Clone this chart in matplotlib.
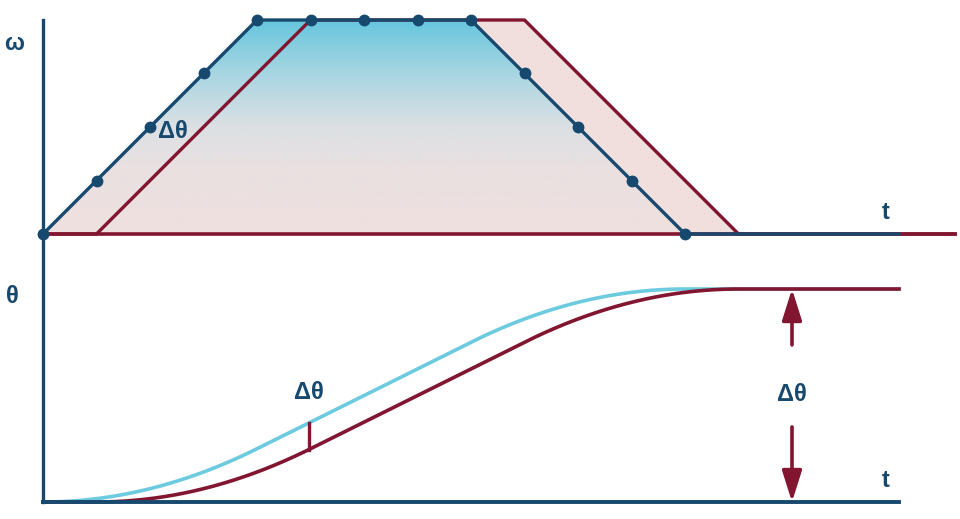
import numpy as np
import matplotlib.pyplot as plt
from matplotlib.colors import LinearSegmentedColormap
from matplotlib.patches import Polygon

plt.rcParams['font.family'] = ['Liberation Sans', 'DejaVu Sans']

# velocity profile breakpoints (time units, normalised speed)
t_blue = [0, 1, 2, 3, 4, 5, 6, 7, 8, 9, 10, 11, 12]
w_blue = [0, 0.25, 0.5, 0.75, 1, 1, 1, 1, 1, 0.75, 0.5, 0.25, 0]
t_red = [0, 1, 5, 9, 13, 17.05]
w_red = [0, 0, 1, 1, 0, 0]
t_end = 16          # end of the blue baseline / theta axis
t_arrow = 14        # where the total delta-theta arrow sits
t_mark = 4.97       # where the small delta-theta marker sits

NAVY = '#17496f'
RED = '#82152f'
CYAN = '#6ccbde'
PINK = '#f0dfdd'

fig = plt.figure(figsize=(9.6, 5.19), dpi=100)
ax1 = fig.add_axes([0, 259 / 519, 1, 260 / 519])
ax2 = fig.add_axes([0, 0, 1, 259 / 519])
xlim = (-43 / 53.5, (960 - 43) / 53.5)
for ax in (ax1, ax2):
    ax.set_xlim(*xlim)
    ax.axis('off')
ax1.set_ylim(-26 / 214, 234 / 214)
ax2.set_ylim(-17 / 26.625, 242 / 26.625)

# ---- top panel: speed ----
ax1.fill_between(t_red, w_red, color=PINK, lw=0, zorder=1)
cmap = LinearSegmentedColormap.from_list(
    'grad', [(0, '#efe0df'), (0.3, '#eae0e1'), (0.5, '#dce0e4'),
             (0.75, '#a8d6e2'), (1, '#66c6dd')])
grad = np.linspace(0, 1, 256).reshape(-1, 1)
img = ax1.imshow(grad, cmap=cmap, origin='lower', aspect='auto',
                 extent=[0, 12, 0, 1], zorder=2)
poly = Polygon(np.column_stack([t_blue, w_blue]), closed=True,
               transform=ax1.transData, fc='none', ec='none')
ax1.add_patch(poly)
img.set_clip_path(poly)

ax1.plot([t_red[0], t_red[-1]], [0, 0], color=RED, lw=2.6, zorder=3)
ax1.plot(t_red, w_red, color=RED, lw=2.4, zorder=3)
ax1.plot(t_blue + [t_end], w_blue + [0], color=NAVY, lw=2.4, zorder=4)
ax1.plot(t_blue, w_blue, 'o', color=NAVY, ms=7.5, zorder=5)

txt = dict(color=NAVY, fontsize=17, fontweight='bold', ha='center', va='center')
ax1.text(-0.54, 0.89, 'ω', **txt)
ax1.text(15.76, 0.10, 't', **txt)
ax1.text(2.43, 0.48, 'Δθ', **txt)

# ---- bottom panel: position = integral of speed ----
t = np.linspace(0, t_end, 1601)
wb = np.interp(t, t_blue, w_blue)
wr = np.interp(t, t_red, w_red)
dt = t[1] - t[0]
theta_b = np.concatenate([[0], np.cumsum((wb[1:] + wb[:-1]) / 2 * dt)])
theta_r = np.concatenate([[0], np.cumsum((wr[1:] + wr[:-1]) / 2 * dt)])

# one vertical axis line for both panels (runs up to the top of the speed plot)
ax2.plot([0, 0], [0, 482 / 26.625], color=NAVY, lw=2.4, clip_on=False, zorder=4)
ax2.plot([0, t_end], [0, 0], color=NAVY, lw=2.8, zorder=4)
ax2.plot(t, theta_b, color=CYAN, lw=2.6, zorder=2)
ax2.plot(t, theta_r, color=RED, lw=2.6, zorder=3)

yb = np.interp(t_mark, t, theta_b)
yr = np.interp(t_mark, t, theta_r)
ax2.plot([t_mark, t_mark], [yr, yb], color=RED, lw=2.4, zorder=3)
ax2.text(t_mark, 4.13, 'Δθ', **txt)

total = theta_b[-1]
arrow = dict(arrowstyle='-|>,head_length=0.95,head_width=0.3', color=RED,
             lw=2.6, shrinkA=0, shrinkB=0, mutation_scale=20)
ax2.annotate('', xy=(t_arrow, total), xytext=(t_arrow, 5.9), arrowprops=arrow, zorder=5)
ax2.annotate('', xy=(t_arrow, 0), xytext=(t_arrow, 2.82), arrowprops=arrow, zorder=5)
ax2.text(t_arrow, 4.02, 'Δθ', **txt)
ax2.text(-0.58, 7.7, 'θ', **txt)
ax2.text(15.76, 0.79, 't', **txt)

fig.savefig('out.png', dpi=100)
